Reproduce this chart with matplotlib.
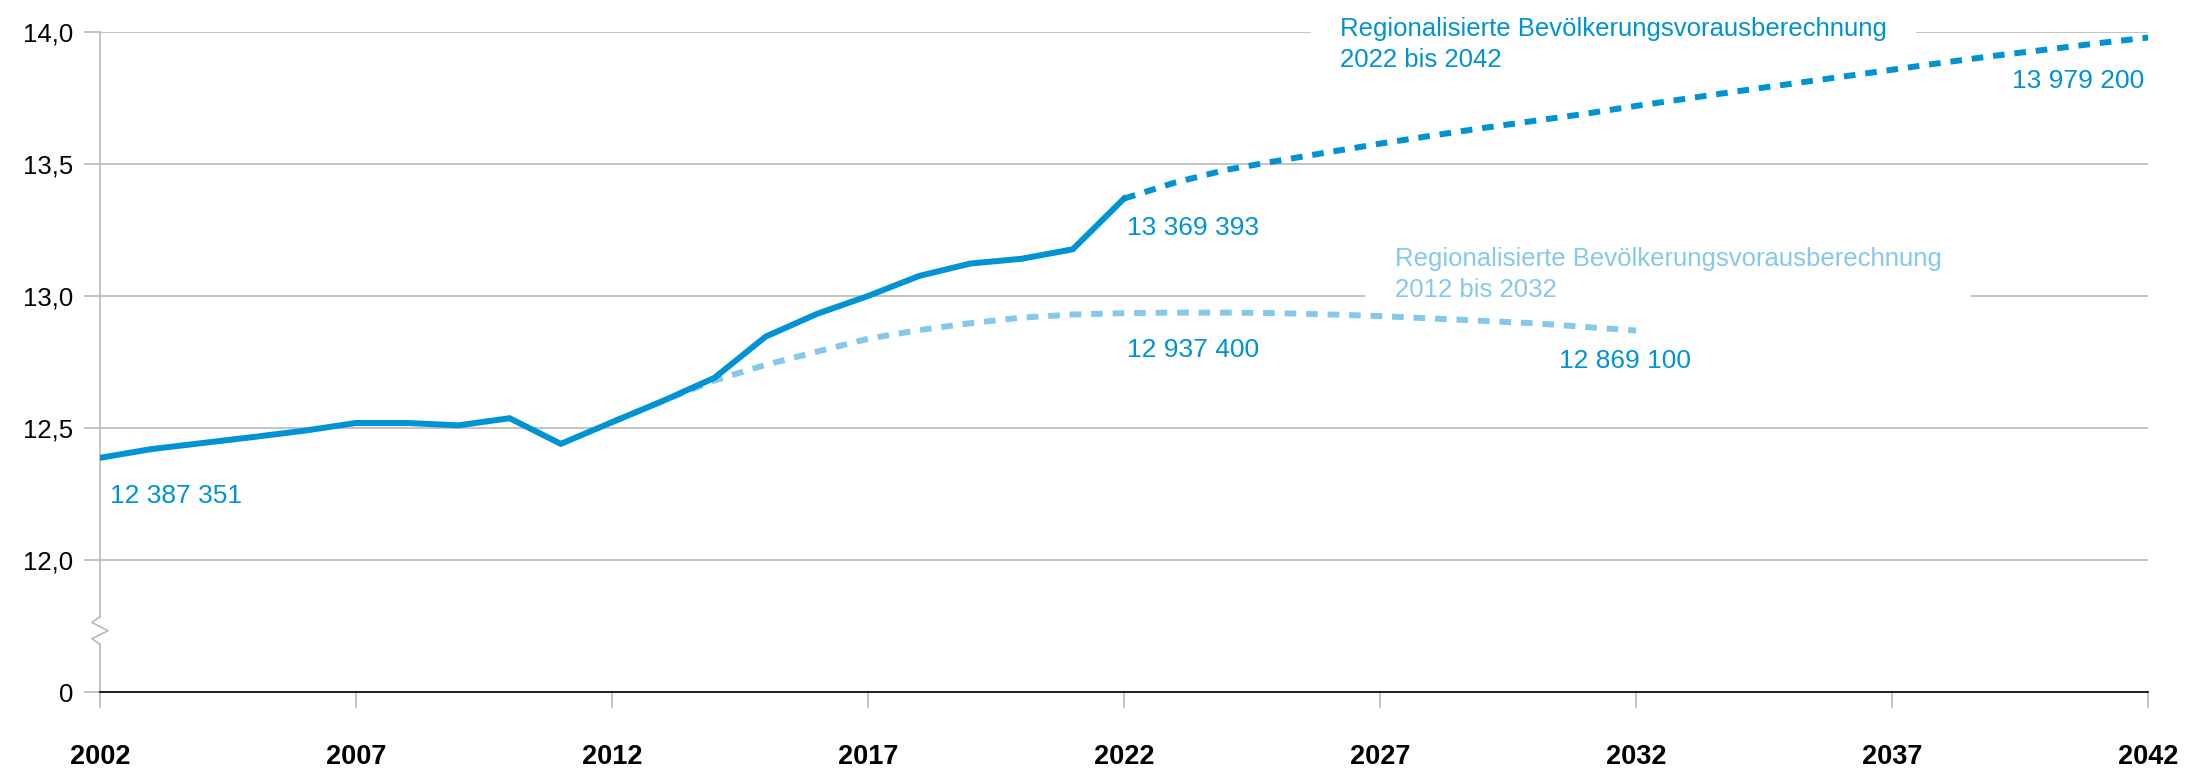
import matplotlib
matplotlib.use('Agg')
import matplotlib.pyplot as plt
import matplotlib.transforms as mtransforms

plt.rcParams['font.family'] = ['Liberation Sans', 'DejaVu Sans']

DARK_BLUE = '#0093d4'
LIGHT_BLUE = '#86c8ea'
GRID_GREY = '#b4b4b4'

# Bevölkerung in Mio.
years_actual = list(range(2002, 2023))
population_actual = [12.387, 12.420, 12.443, 12.466, 12.490, 12.519, 12.519,
                     12.510, 12.537, 12.440, 12.522, 12.603, 12.690, 12.846,
                     12.932, 13.000, 13.076, 13.123, 13.141, 13.177, 13.369]

years_proj_2022 = list(range(2022, 2043))
population_proj_2022 = [13.369, 13.430, 13.478, 13.512, 13.545, 13.577, 13.607,
                        13.636, 13.663, 13.690, 13.720, 13.748, 13.776, 13.803,
                        13.830, 13.857, 13.884, 13.910, 13.933, 13.957, 13.979]

years_proj_2012 = list(range(2012, 2033))
population_proj_2012 = [12.522, 12.603, 12.680, 12.739, 12.789, 12.838, 12.871,
                        12.897, 12.918, 12.930, 12.935, 12.937, 12.937, 12.935,
                        12.930, 12.924, 12.915, 12.906, 12.897, 12.883, 12.869]

x_ticks = [2002, 2007, 2012, 2017, 2022, 2027, 2032, 2037, 2042]
y_ticks = [11.5, 12.0, 12.5, 13.0, 13.5, 14.0]
y_tick_labels = ['0', '12,0', '12,5', '13,0', '13,5', '14,0']

W, H = 2188, 771
fig = plt.figure(figsize=(W / 100, H / 100), dpi=100)
ax = fig.add_axes([100 / W, 1 - 692 / H, 2048 / W, 660 / H])

ax.set_xlim(2002, 2042)
ax.set_ylim(11.5, 14.0)

# gridlines and axes
ax.set_axisbelow(True)
ax.set_yticks(y_ticks)
ax.set_yticklabels(y_tick_labels)
ax.set_xticks(x_ticks)
ax.set_xticklabels([str(x) for x in x_ticks], fontweight='bold')
ax.yaxis.grid(True, color=GRID_GREY, linewidth=1.1)
ax.tick_params(axis='y', length=11.5, width=1.1, color=GRID_GREY, pad=8,
               labelsize=18.5, labelcolor='black')
ax.tick_params(axis='x', length=11.5, width=1.1, color=GRID_GREY, pad=26,
               labelsize=19.5, labelcolor='black')

for side in ['top', 'right', 'left']:
    ax.spines[side].set_visible(False)
ax.spines['bottom'].set_color('black')
ax.spines['bottom'].set_linewidth(1.2)
ax.spines['bottom'].set_zorder(3)

# left axis with break
trans = mtransforms.blended_transform_factory(ax.transAxes, ax.transData)
k = 8 / 2048
brk_top, brk_bot = 11.785, 11.680
ax.plot([0, 0], [brk_top, 14.0], transform=trans, color=GRID_GREY,
        lw=1.1, clip_on=False, zorder=1)
ax.plot([0, 0], [11.5, brk_bot], transform=trans, color=GRID_GREY,
        lw=1.1, clip_on=False, zorder=1)
zig_y = [brk_top, brk_top - 0.022, brk_top - 0.053, brk_top - 0.083, brk_bot]
zig_x = [0, -k, k, -k, 0]
ax.plot(zig_x, zig_y, transform=trans, color=GRID_GREY, lw=1.1,
        clip_on=False, zorder=1)

# series
ax.plot(years_proj_2012, population_proj_2012, color=LIGHT_BLUE, lw=4.3,
        dashes=(1.95, 1.65), dash_capstyle='butt', zorder=2)
ax.plot(years_actual, population_actual, color=DARK_BLUE, lw=4.3,
        solid_joinstyle='miter', zorder=3)
ax.plot(years_proj_2022, population_proj_2022, color=DARK_BLUE, lw=4.3,
        dashes=(1.95, 1.65), dash_capstyle='butt', zorder=3)

# value labels
label_kw = dict(fontsize=19, color=DARK_BLUE, va='center')
ax.text(2002.2, 12.244, '12 387 351', ha='left', **label_kw)
ax.text(2022.05, 13.258, '13 369 393', ha='left', **label_kw)
ax.text(2022.05, 12.795, '12 937 400', ha='left', **label_kw)
ax.text(2030.49, 12.752, '12 869 100', ha='left', **label_kw)
ax.text(2041.92, 13.814, '13 979 200', ha='right', **label_kw)

# series annotations
box = dict(boxstyle='square,pad=1.15', facecolor='white', edgecolor='none')
ax.text(2026.22, 13.985, 'Regionalisierte Bevölkerungsvorausberechnung',
        fontsize=18.5, color=DARK_BLUE, ha='left', va='baseline',
        bbox=box, zorder=1.5, clip_on=False)
ax.text(2026.22, 13.867, '2022 bis 2042', fontsize=18.5, color=DARK_BLUE,
        ha='left', va='baseline', zorder=1.6)
ax.text(2027.29, 13.114, 'Regionalisierte Bevölkerungsvorausberechnung',
        fontsize=18.5, color=LIGHT_BLUE, ha='left', va='baseline',
        bbox=box, zorder=1.5)
ax.text(2027.29, 12.996, '2012 bis 2032', fontsize=18.5, color=LIGHT_BLUE,
        ha='left', va='baseline', zorder=1.6)

fig.savefig('out.png', dpi=100)
